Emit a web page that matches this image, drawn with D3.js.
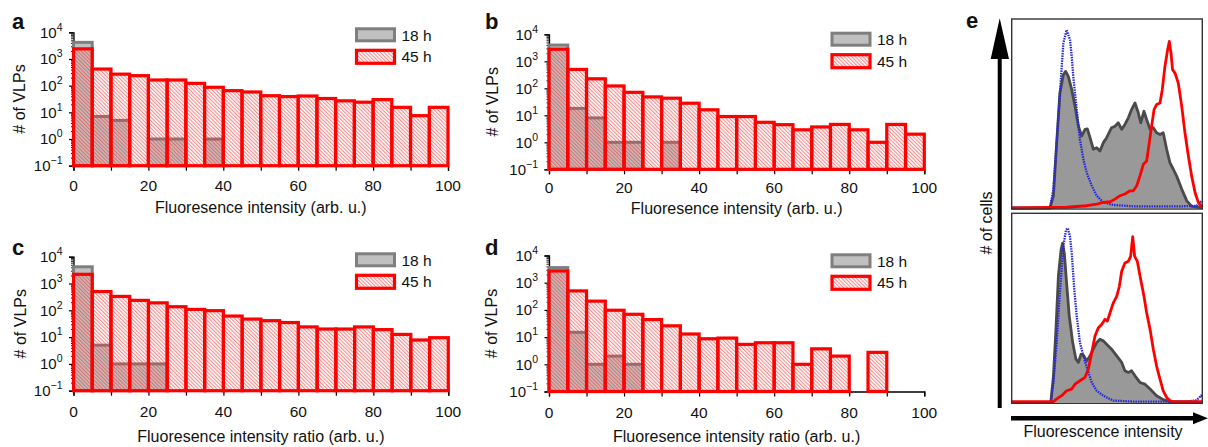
<!DOCTYPE html>
<html><head><meta charset="utf-8">
<script src="https://cdn.jsdelivr.net/npm/d3@7"></script>
<style>
body{margin:0;background:#fff}
svg{display:block}
text{font-family:"Liberation Sans",Arial,Helvetica,sans-serif;fill:#111}
</style>
</head><body>
<svg id="chart" width="1208" height="447"></svg>
<script>
// ---------- DATA ----------
const binStarts = [0,5,10,15,20,25,30,35,40,45,50,55,60,65,70,75,80,85,90,95];
const binWidth = 5;
const xTicks = [0,10,20,30,40,50,60,70,80,90,100];
const xTickLabels = [0,20,40,60,80,100];
const yDecades = [-1,0,1,2,3,4];
const seriesNames = ["18 h","45 h"];

const grayA = [4200,7,5,0,1,1,0,1,0,0,0,0,0,0,0,0,0,0,0,0];
const redA  = [2400,420,270,237,163,163,122,87,65,58,42,39,41,33,27,24,30,15.4,7.5,15.4];
const grayB = [4000,18,8,1,1,0,1,0,0,0,0,0,0,0,0,0,0,0,0,0];
const redB  = [2800,500,225,122,71,48,43,28,16,9,9,5.5,4.5,2.9,3.7,4.6,2.9,1,4.6,2];
const grayC = [4200,5,1,1,1,0,0,0,0,0,0,0,0,0,0,0,0,0,0,0];
const redC  = [2200,500,330,235,190,136,108,97,61,47,41,35,24,20,20,24,19,12.6,7.8,9.5];
const grayD = [3600,15,1,2,1,0,0,0,0,0,0,0,0,0,0,0,0,0,0,0];
const redD  = [2700,500,210,97,69,44,26,13,8.7,9.2,5.4,6.2,6.2,1,3.7,2,0,2.75,0,0];

// panel e: [intensity (0-100), count (0-100)]
const eTopGray = [[0,0],[20.1,0],[21.9,6.5],[23.6,34.6],[25.3,60.9],[27.1,70.5],[28.3,72.3],[29.7,69.6],[31.5,62.6],[33.2,53.9],[35.0,43.3],[36.7,38.1],[38.5,41.6],[39.7,41.9],[41.1,37.2],[42.8,31.1],[44.6,31.9],[46.3,30.2],[48.1,34.6],[49.8,37.2],[52.4,42.5],[54.2,43.3],[55.9,45.1],[57.7,41.6],[59.4,44.2],[61.2,47.7],[62.9,52.1],[64.7,55.6],[66.4,50.4],[67.7,45.1],[69.4,51.2],[70.8,46.8],[72.6,41.6],[74.3,42.5],[76.0,39.8],[77.8,38.9],[79.5,39.8],[81.3,31.1],[83.0,24.0],[84.8,20.5],[86.5,17.0],[89.2,10.0],[91.8,3.9],[94.4,0.9],[98.8,0.4],[100,0]];
const eTopBlue = [[0,0],[20.1,0],[21.9,10.0],[23.6,34.6],[25.3,60.9],[27.1,87.2],[28.8,94.2],[30.6,89.0],[31.5,80.2],[32.3,69.6],[34.1,52.1],[35.8,36.3],[37.6,25.8],[39.3,18.8],[42.0,11.8],[44.6,6.5],[48.1,3.0],[53.3,1.6],[63.8,0.9],[90.0,0.9],[97.0,1.2],[98.8,3.0],[100,3.9]];
const eTopRed = [[0,0],[28.8,0.4],[39.3,1.2],[44.6,2.1],[48.1,3.0],[51.6,3.3],[54.2,4.7],[56.8,6.5],[59.4,7.4],[62.1,9.1],[63.8,9.1],[65.6,11.8],[67.3,17.0],[69.1,23.2],[70.8,24.9],[72.2,34.6],[73.4,43.3],[74.7,52.1],[76.0,54.7],[77.8,55.6],[79.0,62.6],[80.4,74.9],[81.8,83.7],[82.7,88.1],[83.6,81.9],[84.4,73.2],[85.7,71.4],[87.4,66.1],[89.2,53.9],[90.9,39.8],[92.7,27.5],[94.4,17.0],[96.2,8.2],[97.9,3.0],[99.3,1.2],[100,0.4]];
const eBotGray = [[0,0],[20.5,0],[21.9,14.0],[23.3,40.4],[24.5,66.7],[25.9,80.7],[26.7,84.2],[27.6,78.9],[28.8,63.2],[30.2,45.6],[32.0,31.6],[33.7,22.8],[35.0,21.1],[36.4,25.4],[37.9,24.6],[39.3,21.9],[41.1,24.6],[42.8,28.1],[44.6,31.6],[46.3,33.3],[48.1,32.5],[49.8,30.7],[52.4,28.1],[55.1,24.6],[57.7,21.1],[59.4,16.7],[61.2,15.8],[62.9,16.7],[64.7,14.0],[67.3,10.5],[69.9,9.6],[72.6,7.0],[76.0,3.5],[79.5,1.4],[83.0,0.4],[100,0]];
const eBotBlue = [[0,0],[20.5,0],[21.9,10.5],[23.6,31.6],[25.3,57.9],[27.1,82.5],[28.5,91.2],[29.4,92.1],[30.6,87.7],[31.5,78.9],[32.7,61.4],[34.1,45.6],[35.8,31.6],[37.6,24.6],[39.7,17.5],[42.0,10.5],[44.6,6.1],[48.1,3.5],[49.8,2.6],[53.3,0.9],[63.8,0.4],[91.8,0.4],[97.0,1.1],[99.3,3.5],[100,2.6]];
const eBotRed = [[0,0.4],[21.9,0.4],[23.6,1.8],[26.2,3.5],[28.8,6.1],[31.5,7.0],[33.2,9.6],[35.8,11.4],[38.5,13.2],[40.2,17.5],[42.0,26.3],[43.7,35.1],[45.5,39.5],[47.2,41.2],[48.95,43.9],[50.2,43.0],[51.6,47.4],[53.3,52.6],[55.1,56.1],[56.5,61.4],[57.7,69.3],[59.4,73.7],[61.2,74.6],[62.4,77.2],[63.5,87.7],[64.5,77.2],[65.9,74.6],[67.7,64.9],[69.4,56.1],[70.8,47.4],[72.6,38.6],[74.3,28.1],[76.0,19.3],[77.8,12.3],[79.5,6.1],[81.3,2.6],[83.0,0.9],[84.8,0.4],[100,0.4]];

// ---------- LAYOUT ----------
const svg = d3.select("#chart");
const defs = svg.append("defs");
const pat = defs.append("pattern").attr("id","hatch").attr("patternUnits","userSpaceOnUse")
  .attr("width",2.6).attr("height",2.6).attr("patternTransform","rotate(-45)");
pat.append("line").attr("x1",0.6).attr("y1",0).attr("x2",0.6).attr("y2",2.6)
  .attr("stroke","#ff2020").attr("stroke-width",0.75).attr("stroke-opacity",0.78);

const RED = "#ff0000", GRAYF = "#c0c0c0", GRAYS = "#7f7f7f";

const panels = [
  {label:"a", gray:grayA, red:redA, title:"Fluoresence intensity (arb. u.)", x0:73.5, x1:448, yT:32.3, yB:165.7, lab:[12,28.5], xlabY:190.7, titleY:212.7, ytX:25, legY:27.3},
  {label:"b", gray:grayB, red:redB, title:"Fluoresence intensity (arb. u.)", x0:549, x1:924.3, yT:34.3, yB:169.3, lab:[485,28.5], xlabY:193.3, titleY:214.3, ytX:498, legY:31.7},
  {label:"c", gray:grayC, red:redC, title:"Fluoresence intensity ratio (arb. u.)", x0:73.5, x1:448.3, yT:256.7, yB:390.7, lab:[12,255], xlabY:416.7, titleY:441.5, ytX:26, legY:252.3},
  {label:"d", gray:grayD, red:redD, title:"Fluoresence intensity ratio (arb. u.)", x0:549, x1:924.3, yT:255.5, yB:391.5, lab:[485,255], xlabY:418, titleY:441.5, ytX:497, legY:253.3}
];

panels.forEach(p => {
  const g = svg.append("g");
  const x = d3.scaleLinear().domain([0,100]).range([p.x0,p.x1]);
  const y = d3.scaleLog().domain([0.1,10000]).range([p.yB,p.yT]);

  const xa = g.append("g").attr("transform",`translate(0,${p.yB})`)
    .call(d3.axisBottom(x).tickValues(xTicks).tickSize(5).tickFormat(""));
  xa.select(".domain").attr("stroke","#000").attr("stroke-width",1.3);
  xa.selectAll(".tick line").attr("stroke","#000").attr("stroke-width",1.2);
  g.selectAll(".xl").data(xTickLabels).join("text")
    .attr("x",d=>x(d)).attr("y",p.xlabY).attr("text-anchor","middle")
    .attr("font-size",15.5).text(d=>d);

  const ya = g.append("g").attr("transform",`translate(${p.x0},0)`)
    .call(d3.axisLeft(y).tickValues(yDecades.map(e=>Math.pow(10,e))).tickSize(4.5).tickFormat(""));
  ya.select(".domain").attr("stroke","#000").attr("stroke-width",1.3);
  ya.selectAll(".tick line").attr("stroke","#000").attr("stroke-width",1.2);
  const minorVals = [];
  yDecades.slice(0,-1).forEach(e => { for (let m=2;m<10;m++) minorVals.push(m*Math.pow(10,e)); });
  const ym = g.append("g").attr("transform",`translate(${p.x0},0)`)
    .call(d3.axisLeft(y).tickValues(minorVals).tickSize(2.5).tickFormat(""));
  ym.select(".domain").remove();
  ym.selectAll(".tick line").attr("stroke","#000").attr("stroke-width",0.9);

  const yl = g.selectAll(".yl").data(yDecades).join("text")
    .attr("x",p.x0-11).attr("y",d=>y(Math.pow(10,d))+5.3).attr("text-anchor","end").attr("font-size",15);
  yl.append("tspan").text("10");
  yl.append("tspan").attr("dy",-7).attr("font-size",10.5).text(d=> d<0 ? "\u2212"+Math.abs(d) : d);

  g.append("text").attr("transform",`translate(${p.ytX},${(p.yT+p.yB)/2}) rotate(-90)`)
    .attr("text-anchor","middle").attr("font-size",16).text("# of VLPs");
  g.append("text").attr("x",(p.x0+p.x1)/2).attr("y",p.titleY).attr("text-anchor","middle")
    .attr("font-size",16).text(p.title);
  g.append("text").attr("x",p.lab[0]).attr("y",p.lab[1]).attr("font-size",22).attr("font-weight","bold").text(p.label);

  const grayBins = binStarts.map((b,i)=>({b, v:p.gray[i]})).filter(d=>d.v>0);
  g.selectAll(".gb").data(grayBins).join("rect")
    .attr("x",d=>x(d.b)).attr("width",d=>x(d.b+binWidth)-x(d.b))
    .attr("y",d=>y(d.v)).attr("height",d=>p.yB-y(d.v))
    .attr("fill",GRAYF).attr("stroke",GRAYS).attr("stroke-width",3);
  const redBins = binStarts.map((b,i)=>({b, v:p.red[i]})).filter(d=>d.v>0);
  g.selectAll(".rb").data(redBins).join("rect")
    .attr("x",d=>x(d.b)).attr("width",d=>x(d.b+binWidth)-x(d.b))
    .attr("y",d=>y(d.v)).attr("height",d=>p.yB-y(d.v))
    .attr("fill","url(#hatch)").attr("stroke",RED).attr("stroke-width",3.2);

  const lx = p.x0+283, lw = 38;
  g.append("rect").attr("x",lx).attr("y",p.legY+1.5).attr("width",lw).attr("height",12)
    .attr("fill",GRAYF).attr("stroke",GRAYS).attr("stroke-width",3);
  g.append("rect").attr("x",lx).attr("y",p.legY+23).attr("width",lw).attr("height",13)
    .attr("fill","url(#hatch)").attr("stroke",RED).attr("stroke-width",3.2);
  g.append("text").attr("x",p.x0+328).attr("y",p.legY+13.5).attr("font-size",15.5).text(seriesNames[0]);
  g.append("text").attr("x",p.x0+328).attr("y",p.legY+35).attr("font-size",15.5).text(seriesNames[1]);
});

// ---------- PANEL e ----------
const eBoxes = [
  {top:19, bot:209, gray:eTopGray, blue:eTopBlue, red:eTopRed},
  {top:213.3, bot:403.3, gray:eBotGray, blue:eBotBlue, red:eBotRed}
];
const ex = d3.scaleLinear().domain([0,100]).range([1011.7,1202.3]);
eBoxes.forEach(b => {
  const g = svg.append("g");
  const ey = d3.scaleLinear().domain([0,100]).range([b.bot-1,b.top]);
  const area = d3.area().x(d=>ex(d[0])).y0(ey(0)).y1(d=>ey(d[1]));
  const line = d3.line().x(d=>ex(d[0])).y(d=>ey(d[1]));
  g.append("path").attr("d",area(b.gray)).attr("fill","#999");
  g.append("path").attr("d",line(b.gray)).attr("fill","none").attr("stroke","#4a4a4a").attr("stroke-width",2.8).attr("stroke-linejoin","round");
  g.append("path").attr("d",line(b.blue)).attr("fill","none").attr("stroke","#2525e0").attr("stroke-width",2.3).attr("stroke-dasharray","1.5,1");
  g.append("path").attr("d",line(b.red)).attr("fill","none").attr("stroke","#ff0000").attr("stroke-width",2.8).attr("stroke-linejoin","round");
  g.append("rect").attr("x",ex(0)).attr("y",b.top).attr("width",ex(100)-ex(0)).attr("height",b.bot-b.top)
    .attr("fill","none").attr("stroke","#333").attr("stroke-width",1.4);
});
svg.append("line").attr("x1",999.7).attr("x2",999.7).attr("y1",55).attr("y2",408).attr("stroke","#000").attr("stroke-width",4);
svg.append("path").attr("d","M999.7,18.3L990.7,59L1009,59Z").attr("fill","#000");
svg.append("line").attr("x1",1011).attr("x2",1196).attr("y1",418.3).attr("y2",418.3).attr("stroke","#000").attr("stroke-width",4.5);
svg.append("path").attr("d","M1208,418.3L1193,412.3L1193,424.3Z").attr("fill","#000");
svg.append("text").attr("transform","translate(992,223) rotate(-90)").attr("text-anchor","middle").attr("font-size",16).text("# of cells");
svg.append("text").attr("x",1103).attr("y",436.5).attr("text-anchor","middle").attr("font-size",16).text("Fluorescence intensity");
svg.append("text").attr("x",966).attr("y",27.5).attr("font-size",22).attr("font-weight","bold").text("e");
</script>
</body></html>
